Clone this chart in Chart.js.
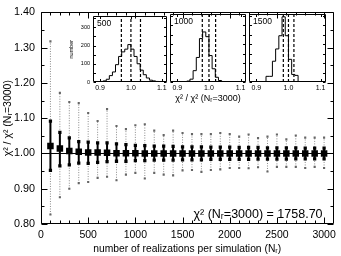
<!DOCTYPE html>
<html>
<head>
<meta charset="utf-8">
<script src="https://cdn.jsdelivr.net/npm/chart.js@4.4.0/dist/chart.umd.min.js"></script>
<style>
  body { margin: 0; background: #fff; }
  #wrap { position: relative; width: 341px; height: 256px; }
  canvas { position: absolute; }
</style>
</head>
<body>
<div id="wrap">
  <canvas id="main" width="341" height="256" style="left:0;top:0"></canvas>
  <canvas id="h1" width="112" height="82" style="left:60px;top:10px"></canvas>
  <canvas id="h2" width="116" height="96" style="left:150px;top:10px"></canvas>
  <canvas id="h3" width="95" height="82" style="left:240px;top:10px"></canvas>
</div>
<script>
// realizations per simulation
const nr = [100, 200, 300, 400, 500, 600, 700, 800, 900, 1000,
            1100, 1200, 1300, 1400, 1500, 1600, 1700, 1800, 1900, 2000,
            2100, 2200, 2300, 2400, 2500, 2600, 2700, 2800, 2900, 3000];
// mean chi2 / chi2(Nr=3000)
const meanRatio = [1.021, 1.014, 1.007, 1.005, 1.003, 1.003, 1.002, 1.001, 1.001, 1.001,
                   1.000, 1.000, 1.000, 1.000, 1.000, 1.000, 1.000, 1.000, 1.000, 1.000,
                   1.000, 1.000, 1.000, 1.000, 1.000, 1.000, 1.000, 1.000, 1.000, 1.000];
// 1 sigma range (solid bars)
const sigLow  = [0.952, 0.965, 0.968, 0.973, 0.972, 0.975, 0.977, 0.978, 0.978, 0.980,
                 0.980, 0.981, 0.981, 0.981, 0.982, 0.982, 0.982, 0.983, 0.983, 0.983,
                 0.983, 0.983, 0.984, 0.984, 0.984, 0.984, 0.985, 0.985, 0.985, 0.985];
const sigHigh = [1.092, 1.060, 1.044, 1.034, 1.032, 1.030, 1.030, 1.027, 1.025, 1.023,
                 1.022, 1.021, 1.021, 1.020, 1.019, 1.019, 1.019, 1.018, 1.018, 1.018,
                 1.017, 1.017, 1.017, 1.016, 1.016, 1.016, 1.016, 1.015, 1.015, 1.015];
// full range (dotted bars)
const minRatio = [0.827, 0.876, 0.900, 0.916, 0.919, 0.931, 0.934, 0.924, 0.940, 0.945,
                  0.929, 0.945, 0.940, 0.938, 0.952, 0.953, 0.948, 0.953, 0.955, 0.959,
                  0.959, 0.958, 0.961, 0.949, 0.962, 0.962, 0.962, 0.959, 0.962, 0.959];
const maxRatio = [1.318, 1.172, 1.146, 1.143, 1.115, 1.092, 1.126, 1.078, 1.069, 1.080,
                  1.083, 1.065, 1.052, 1.065, 1.058, 1.055, 1.055, 1.055, 1.058, 1.055,
                  1.048, 1.054, 1.044, 1.048, 1.054, 1.040, 1.051, 1.045, 1.045, 1.045];
const refLevel = 1.0;
const chi2Ref = '1758.70';

const xTicks = [0, 500, 1000, 1500, 2000, 2500, 3000];
const yTicks = [0.8, 0.9, 1.0, 1.1, 1.2, 1.3, 1.4];

// inset histograms
const binEdges = [0.88, 0.89, 0.90, 0.91, 0.92, 0.93, 0.94, 0.95, 0.96, 0.97, 0.98, 0.99,
                  1.00, 1.01, 1.02, 1.03, 1.04, 1.05, 1.06, 1.07, 1.08, 1.09, 1.10, 1.11, 1.12];
const hist500  = [0, 0, 0, 3, 6, 15, 35, 55, 95, 140, 165, 180,
                  205, 180, 140, 100, 65, 40, 22, 10, 6, 3, 1, 0];
const hist1000 = [0, 0, 0, 0, 0, 0, 5, 15, 60, 130, 230, 265,
                  240, 140, 70, 25, 8, 2, 0, 0, 0, 0, 0, 0];
const hist1500 = [0, 0, 0, 0, 0, 0, 30, 30, 110, 175, 245, 345,
                  245, 120, 40, 35, 0, 0, 0, 0, 0, 0, 0, 0];
const lines500  = [0.969, 1.0, 1.031];
const lines1000 = [0.979, 1.0, 1.021];
const lines1500 = [0.984, 1.0, 1.017];
const insetXTicks = [0.9, 1.0, 1.1];
const insetYTicks = [0, 50, 100, 150, 200, 250, 300, 350];

const FONT = 'Liberation Sans';

function pts(xs, ys) { return xs.map((x, i) => ({ x: x, y: ys[i] })); }
function bars(lo, hi) {
  const p = [];
  nr.forEach((x, i) => { p.push({ x: x, y: lo[i] }, { x: x, y: hi[i] }, { x: x, y: null }); });
  return p;
}

// frame with inward ticks on all four sides
const frameTicks = {
  id: 'frameTicks',
  afterDatasetsDraw(chart, args, o) {
    const { ctx, chartArea: a } = chart;
    const xs = chart.scales.x, ys = chart.scales.y;
    const L = Math.round(a.left) + 0.5, R = Math.round(a.right) - 0.5;
    const T = Math.round(a.top) + 0.5, B = Math.round(a.bottom) - 0.5;
    ctx.save();
    ctx.strokeStyle = '#000';
    ctx.lineWidth = 1;
    ctx.beginPath();
    ctx.rect(L, T, R - L, B - T);
    const tx = (v, len) => {
      const p = Math.round(xs.getPixelForValue(v)) + 0.5;
      ctx.moveTo(p, B); ctx.lineTo(p, B - len);
      ctx.moveTo(p, T); ctx.lineTo(p, T + len);
    };
    const ty = (v, len) => {
      const p = Math.round(ys.getPixelForValue(v)) + 0.5;
      ctx.moveTo(L, p); ctx.lineTo(L + len, p);
      ctx.moveTo(R, p); ctx.lineTo(R - len, p);
    };
    o.xMajor.forEach(v => tx(v, o.major));
    (o.xMinor || []).forEach(v => tx(v, o.minor));
    o.yMajor.forEach(v => ty(v, o.major));
    (o.yMinor || []).forEach(v => ty(v, o.minor));
    ctx.stroke();
    ctx.restore();
  }
};

const note = {
  id: 'note',
  afterDraw(chart, args, o) {
    const a = chart.chartArea, ctx = chart.ctx;
    ctx.save();
    ctx.fillStyle = '#000';
    ctx.font = o.size + 'px "' + FONT + '"';
    ctx.textAlign = o.align;
    ctx.textBaseline = 'alphabetic';
    const x = o.align === 'right' ? a.right - o.dx : a.left + o.dx;
    ctx.fillText(o.text, x, a.top + o.dy);
    ctx.restore();
  }
};

const xMinorMain = [], yMinorMain = [];
for (let v = 100; v <= 3000; v += 100) if (v % 500) xMinorMain.push(v);
for (let k = 0; k < 6; k++) yMinorMain.push(0.85 + k * 0.1);

new Chart(document.getElementById('main'), {
  type: 'line',
  data: {
    datasets: [
      { data: pts(nr, meanRatio), showLine: false, pointStyle: 'rect', pointRadius: 4.6,
        pointBackgroundColor: '#000', pointBorderWidth: 0 },
      { data: bars(sigLow, sigHigh), borderColor: '#000', borderWidth: 2, pointStyle: 'rect',
        pointRadius: 2.3, pointBackgroundColor: '#000', pointBorderWidth: 0, spanGaps: false },
      { data: bars(minRatio, maxRatio), borderColor: '#8a8a8a', borderWidth: 1, borderDash: [1, 1.5],
        pointStyle: 'rect', pointRadius: 1.5, pointBackgroundColor: '#666', pointBorderWidth: 0, spanGaps: false },
      { data: [{ x: 0, y: refLevel }, { x: 3100, y: refLevel }], borderColor: '#000', borderWidth: 1, pointRadius: 0 }
    ]
  },
  options: {
    responsive: false,
    animation: false,
    layout: { padding: { top: 6, right: 7, left: 0, bottom: 0 } },
    plugins: {
      legend: { display: false },
      tooltip: { enabled: false },
      frameTicks: { xMajor: xTicks, xMinor: xMinorMain, yMajor: yTicks, yMinor: yMinorMain, major: 6, minor: 3 },
      note: { text: 'χ² (Nᵣ=3000) = ' + chi2Ref, size: 12.5, align: 'right', dx: 11, dy: 206 }
    },
    scales: {
      x: {
        type: 'linear', min: 0, max: 3100,
        afterBuildTicks: s => { s.ticks = xTicks.map(v => ({ value: v })); },
        afterFit: s => { s.height = 32; },
        grid: { display: false, drawTicks: false },
        border: { display: false },
        ticks: { padding: 5, color: '#000', maxRotation: 0, autoSkip: false,
                 font: { family: FONT, size: 10.5 }, callback: v => String(v) },
        title: { display: true, text: 'number of realizations per simulation (Nᵣ)', color: '#000',
                 padding: { top: 0, bottom: 1 }, font: { family: FONT, size: 10.3 } }
      },
      y: {
        type: 'linear', min: 0.8, max: 1.4,
        afterBuildTicks: s => { s.ticks = yTicks.map(v => ({ value: v })); },
        afterFit: s => { s.width = 41; },
        grid: { display: false, drawTicks: false },
        border: { display: false },
        ticks: { padding: 6, color: '#000', font: { family: FONT, size: 10.8 }, callback: v => v.toFixed(2) },
        title: { display: true, text: 'χ² / χ² (Nᵣ=3000)', color: '#000',
                 padding: { top: 2, bottom: 0 }, font: { family: FONT, size: 10.5 } }
      }
    }
  },
  plugins: [frameTicks, note]
});

function inset(id, hist, lines, label, yw, padR, xh, showY, showTitle) {
  const h = binEdges.slice(0, -1).map((e, i) => ({ x: e, y: hist[i] }));
  h.push({ x: binEdges[binEdges.length - 1], y: 0 });
  const ds = [{ data: h, stepped: 'after', borderColor: '#000', borderWidth: 1, pointRadius: 0 }];
  lines.forEach(v => ds.push({ data: [{ x: v, y: 0 }, { x: v, y: 360 }], borderColor: '#000',
    borderWidth: 1.2, borderDash: [3, 2], pointRadius: 0 }));
  new Chart(document.getElementById(id), {
    type: 'line',
    data: { datasets: ds },
    options: {
      responsive: false,
      animation: false,
      layout: { padding: { top: 4, right: padR, left: 0, bottom: 0 } },
      plugins: {
        legend: { display: false },
        tooltip: { enabled: false },
        frameTicks: { xMajor: insetXTicks, yMajor: insetYTicks, major: 2.5, minor: 1.5 },
        note: { text: label, size: 8.5, align: 'left', dx: 4, dy: 10 }
      },
      scales: {
        x: {
          type: 'linear', min: 0.877, max: 1.117,
          afterBuildTicks: s => { s.ticks = insetXTicks.map(v => ({ value: v })); },
          afterFit: s => { s.height = xh; },
          grid: { display: false, drawTicks: false },
          border: { display: false },
          ticks: { padding: 2, color: '#000', maxRotation: 0, autoSkip: false,
                   font: { family: FONT, size: 7 }, callback: v => v.toFixed(1) },
          title: { display: showTitle, text: 'χ² / χ² (Nᵣ=3000)', color: '#000',
                   padding: { top: 0, bottom: 2 }, font: { family: FONT, size: 9 } }
        },
        y: {
          type: 'linear', min: 0, max: 360,
          afterBuildTicks: s => { s.ticks = insetYTicks.map(v => ({ value: v })); },
          afterFit: s => { s.width = yw; },
          grid: { display: false, drawTicks: false },
          border: { display: false },
          ticks: { display: showY, padding: 3, color: '#000', font: { family: FONT, size: 5.5 } },
          title: { display: showY, text: 'number', color: '#000',
                   padding: { top: 8, bottom: 0 }, font: { family: FONT, size: 5.5 } }
        }
      }
    },
    plugins: [frameTicks, note]
  });
}

inset('h1', hist500, lines500, '500', 33, 5, 10, true, false);
inset('h2', hist1000, lines1000, '1000', 20, 20, 24, false, true);
inset('h3', hist1500, lines1500, '1500', 9, 9, 10, false, false);
</script>
</body>
</html>
